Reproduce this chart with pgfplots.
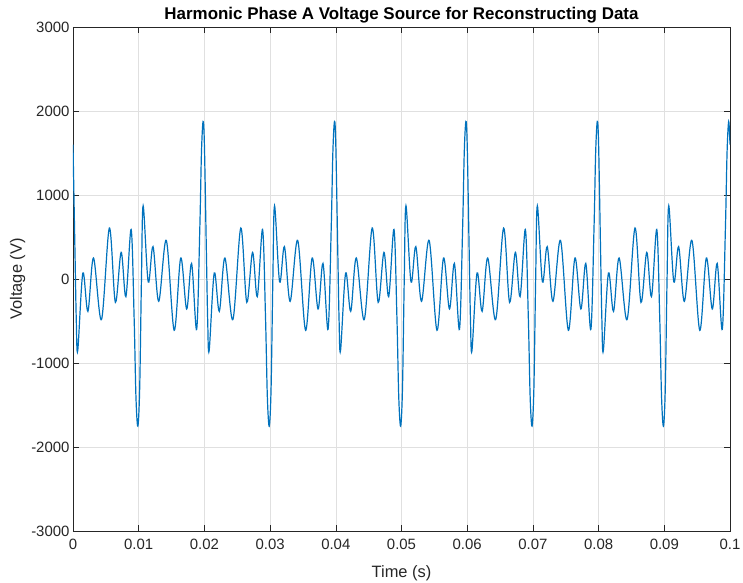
\documentclass[border=0pt]{standalone}
\usepackage{fontspec}
\setmainfont{Liberation Sans}
\usepackage{pgfplots}
\pgfplotsset{compat=1.18}
\definecolor{mblue}{RGB}{0,114,189}
\definecolor{axgray}{RGB}{38,38,38}
\begin{document}
\begin{tikzpicture}
\begin{axis}[
  at={(0,0)}, anchor=south west,
  width=657bp, height=504bp, scale only axis,
  xmin=0, xmax=0.1, ymin=-3000, ymax=3000,
  xtick={0,0.01,0.02,0.03,0.04,0.05,0.06,0.07,0.08,0.09,0.1},
  xticklabels={0,0.01,0.02,0.03,0.04,0.05,0.06,0.07,0.08,0.09,0.1},
  ytick={-3000,-2000,-1000,0,1000,2000,3000},
  yticklabels={-3000,-2000,-1000,0,1000,2000,3000},
  tick label style={font=\fontsize{15}{17}\selectfont, text=axgray},
  xticklabel style={yshift=-4.5bp},
  yticklabel style={xshift=0bp},
  xlabel={Time (s)}, ylabel={Voltage (V)},
  label style={font=\fontsize{16.5}{18}\selectfont, text=axgray},
  xlabel style={at={([yshift=-46bp]axis description cs:0.5,0)}, anchor=base},
  ylabel style={at={([xshift=-51bp]axis description cs:0,0.5)}, anchor=base},
  title={Harmonic Phase A Voltage Source for Reconstructing Data},
  title style={font=\fontsize{17}{19}\selectfont\bfseries, at={([yshift=1.5bp]axis description cs:0.5,1)}, anchor=base},
  grid=major,
  major grid style={color=black!12, line width=0.6bp},
  axis line style={color=axgray, line width=0.6bp},
  tick style={color=axgray, line width=0.6bp},
  tick align=inside, major tick length=6bp,
  clip=true,
]
\addplot[mblue, line width=1.2bp, smooth, tension=0.55] coordinates {
(0,1600) (0.0003,330) (0.0005,-490) (0.00072,-855) (0.0015,71) (0.00227,-385) (0.00312,250) (0.00433,-484) (0.00554,607) (0.00645,-278) (0.00733,317) (0.00805,-210) (0.00885,590) (0.0093,-450) (0.00958,-1400) (0.00987,-1752) (0.01015,-1300) (0.01042,0) (0.01068,872) (0.01145,-35) (0.01218,385) (0.01305,-266) (0.0142,460) (0.0154,-611) (0.0164,250) (0.0173,-357) (0.01805,185) (0.01882,-600) (0.0193,600) (0.01955,1500) (0.0198,1875)
(0.02,1600) (0.0203,330) (0.0205,-490) (0.02072,-855) (0.0215,71) (0.02227,-385) (0.02312,250) (0.02433,-484) (0.02554,607) (0.02645,-278) (0.02733,317) (0.02805,-210) (0.02885,590) (0.0293,-450) (0.02958,-1400) (0.02987,-1752) (0.03015,-1300) (0.03042,0) (0.03068,872) (0.03145,-35) (0.03218,385) (0.03305,-266) (0.0342,460) (0.0354,-611) (0.0364,250) (0.0373,-357) (0.03805,185) (0.03882,-600) (0.0393,600) (0.03955,1500) (0.0398,1875)
(0.04,1600) (0.0403,330) (0.0405,-490) (0.04072,-855) (0.0415,71) (0.04227,-385) (0.04312,250) (0.04433,-484) (0.04554,607) (0.04645,-278) (0.04733,317) (0.04805,-210) (0.04885,590) (0.0493,-450) (0.04958,-1400) (0.04987,-1752) (0.05015,-1300) (0.05042,0) (0.05068,872) (0.05145,-35) (0.05218,385) (0.05305,-266) (0.0542,460) (0.0554,-611) (0.0564,250) (0.0573,-357) (0.05805,185) (0.05882,-600) (0.0593,600) (0.05955,1500) (0.0598,1875)
(0.06,1600) (0.0603,330) (0.0605,-490) (0.06072,-855) (0.0615,71) (0.06227,-385) (0.06312,250) (0.06433,-484) (0.06554,607) (0.06645,-278) (0.06733,317) (0.06805,-210) (0.06885,590) (0.0693,-450) (0.06958,-1400) (0.06987,-1752) (0.07015,-1300) (0.07042,0) (0.07068,872) (0.07145,-35) (0.07218,385) (0.07305,-266) (0.0742,460) (0.0754,-611) (0.0764,250) (0.0773,-357) (0.07805,185) (0.07882,-600) (0.0793,600) (0.07955,1500) (0.0798,1875)
(0.08,1600) (0.0803,330) (0.0805,-490) (0.08072,-855) (0.0815,71) (0.08227,-385) (0.08312,250) (0.08433,-484) (0.08554,607) (0.08645,-278) (0.08733,317) (0.08805,-210) (0.08885,590) (0.0893,-450) (0.08958,-1400) (0.08987,-1752) (0.09015,-1300) (0.09042,0) (0.09068,872) (0.09145,-35) (0.09218,385) (0.09305,-266) (0.0942,460) (0.0954,-611) (0.0964,250) (0.0973,-357) (0.09805,185) (0.09882,-600) (0.0993,600) (0.09955,1500) (0.0998,1875) (0.1,1600)
};
\end{axis}
\pgfresetboundingbox
\path (-73bp,-52bp) rectangle (670bp,531bp);
\end{tikzpicture}
\end{document}
